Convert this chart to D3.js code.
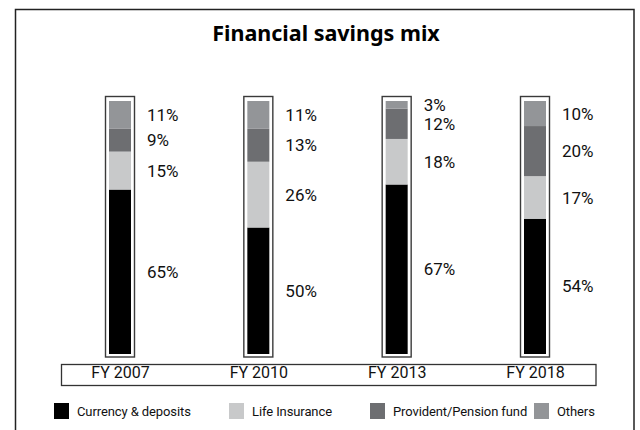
<!DOCTYPE html>
<html><head><meta charset="utf-8">
<script src="https://cdn.jsdelivr.net/npm/d3@7"></script>
<style>body{margin:0;background:#fff}svg{display:block}</style>
</head><body>
<svg id="c" width="640" height="430"></svg>
<script>
const categories = ["FY 2007", "FY 2010", "FY 2013", "FY 2018"];
const seriesNames = ["Currency & deposits", "Life Insurance", "Provident/Pension fund", "Others"];
const currency = [65, 50, 67, 54];
const lifeInsurance = [15, 26, 18, 17];
const provident = [9, 13, 12, 20];
const others = [11, 11, 3, 10];
const colors = ["#000000", "#c8c9ca", "#6d6e71", "#939598"];

const rows = categories.map((c, i) => ({
  cat: c,
  [seriesNames[0]]: currency[i],
  [seriesNames[1]]: lifeInsurance[i],
  [seriesNames[2]]: provident[i],
  [seriesNames[3]]: others[i]
}));

const svg = d3.select("#c");
const font = "Roboto, 'Noto Sans', sans-serif";

// outer frame
svg.append("rect").attr("x", 15.5).attr("y", 9.5).attr("width", 618.5).attr("height", 440)
  .attr("fill", "none").attr("stroke", "#222").attr("stroke-width", 1.5);

svg.append("text").attr("x", 326).attr("y", 41).attr("text-anchor", "middle")
  .attr("font-family", "'Noto Sans', sans-serif").attr("font-weight", "bold").attr("font-size", 21.5)
  .text("Financial savings mix");

const x = d3.scalePoint().domain(categories).range([120, 535]);
const y = d3.scaleLinear().domain([0, 1]).range([354, 101]);

const stack = d3.stack().keys(seriesNames).offset(d3.stackOffsetExpand);
const stacked = stack(rows);

// bar frames
svg.append("g").selectAll("rect").data(categories).join("rect")
  .attr("x", d => x(d) - 14.5).attr("y", 96.5).attr("width", 29).attr("height", 260.5)
  .attr("fill", "#fff").attr("stroke", "#3a3a3a").attr("stroke-width", 1.4);

const barW = 22;
const g = svg.append("g");
stacked.forEach((s, si) => {
  g.append("g").attr("fill", colors[si]).selectAll("rect").data(s).join("rect")
    .attr("x", d => x(d.data.cat) - barW / 2)
    .attr("y", d => y(d[1]))
    .attr("width", barW)
    .attr("height", d => y(d[0]) - y(d[1]));
  g.append("g").selectAll("text").data(s).join("text")
    .attr("x", d => x(d.data.cat) + 27)
    .attr("y", d => (y(d[0]) + y(d[1])) / 2)
    .attr("dy", "0.36em")
    .attr("font-family", font).attr("font-size", 17).attr("fill", "#111")
    .text(d => d.data[seriesNames[si]] + "%");
});

// x axis box
svg.append("rect").attr("x", 61.5).attr("y", 364.5).attr("width", 534.5).attr("height", 21)
  .attr("fill", "none").attr("stroke", "#333").attr("stroke-width", 1.3);
const xAxis = d3.axisBottom(x).tickSize(0).tickPadding(0);
const ax = svg.append("g").attr("transform", "translate(0,367)").call(xAxis);
ax.select(".domain").remove();
ax.selectAll("text").attr("font-family", font).attr("font-size", 16).attr("fill", "#111").attr("dy", "0.71em");

// legend
const legendX = [54, 229, 370, 534];
const lg = svg.append("g").selectAll("g").data(seriesNames).join("g")
  .attr("transform", (d, i) => `translate(${legendX[i]},403)`);
lg.append("rect").attr("width", 15).attr("height", 16).attr("fill", (d, i) => colors[i]);
lg.append("text").attr("x", 23).attr("y", 8).attr("dy", "0.36em")
  .attr("font-family", font).attr("font-size", 13).attr("letter-spacing", -0.1).attr("fill", "#111").text(d => d);
</script>
</body></html>
